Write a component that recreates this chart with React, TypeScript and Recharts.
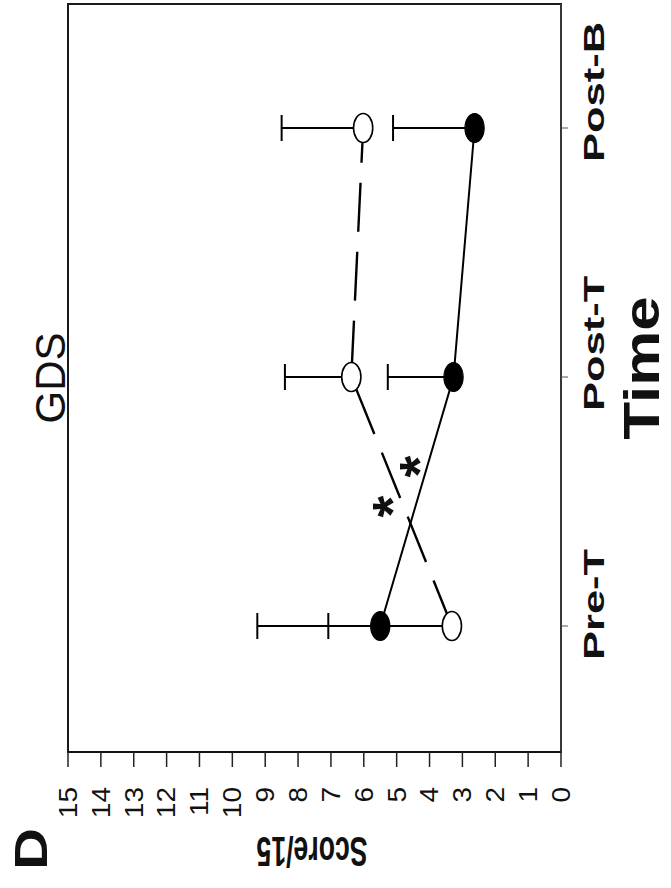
import React from "react";
import {
  ComposedChart,
  Line,
  ErrorBar,
  Scatter,
  XAxis,
  YAxis,
  ReferenceArea,
} from "recharts";

// Sessions along the time axis
const sessionIndex = [1, 2, 3];
const sessionLabels = ["Pre-T", "Post-T", "Post-B"];

// GDS score (/15): open markers, dashed line
const controlMean = [3.32, 6.38, 6.02];
const controlSD = [3.76, 2.02, 2.48];

// GDS score (/15): filled markers, solid line
const trainedMean = [5.5, 3.27, 2.63];
const trainedSD = [3.74, 2.0, 2.48];

// Score axis ticks
const scoreTicks = [0, 1, 2, 3, 4, 5, 6, 7, 8, 9, 10, 11, 12, 13, 14, 15];

// Significance asterisks (session position, score)
const asteriskT = [1.48, 1.64];
const asteriskV = [5.45, 4.64];

const controlRows = sessionIndex.map((t, i) => ({
  t,
  score: controlMean[i],
  err: [0, controlSD[i]],
}));
const trainedRows = sessionIndex.map((t, i) => ({
  t,
  score: trainedMean[i],
  err: [0, trainedSD[i]],
}));
const asteriskMarks = asteriskT.map((t, i) => ({ t, v: asteriskV[i] }));

const FONT = "'Liberation Sans', Arial, Helvetica, sans-serif";
const INK = "#111";

const ScoreTick = (props: any) => {
  const { x, y, payload } = props;
  return (
    <g transform={`translate(${x},${y}) scale(1.12,1)`}>
      <text
        x={0}
        y={0}
        dy="0.355em"
        textAnchor="end"
        fontFamily={FONT}
        fontSize={25}
        fill={INK}
      >
        {String(payload.value)}
      </text>
    </g>
  );
};

const SessionTick = (props: any) => {
  const { x, y, payload } = props;
  const label = sessionLabels[sessionIndex.indexOf(payload.value)] ?? "";
  return (
    <g transform={`translate(${x - 34},${y}) scale(1.45,1)`}>
      <text
        x={0}
        y={0}
        dy="0.72em"
        textAnchor="start"
        fontFamily={FONT}
        fontWeight="bold"
        fontSize={30}
        fill={INK}
      >
        {label}
      </text>
    </g>
  );
};

const OpenDot = (props: any) => {
  const { cx, cy } = props;
  if (cx == null || cy == null) return null;
  return (
    <ellipse cx={cx} cy={cy} rx={14.5} ry={9.6} fill="#fff" stroke="#000" strokeWidth={1.6} />
  );
};

const FilledDot = (props: any) => {
  const { cx, cy } = props;
  if (cx == null || cy == null) return null;
  return (
    <ellipse cx={cx} cy={cy} rx={14.5} ry={9.6} fill="#000" stroke="#000" strokeWidth={1.2} />
  );
};

const AsteriskMark = (props: any) => {
  const { cx, cy } = props;
  if (cx == null || cy == null) return null;
  return (
    <text
      x={cx}
      y={cy}
      dy="0.52em"
      textAnchor="middle"
      fontFamily={FONT}
      fontWeight="bold"
      fontSize={56}
      fill={INK}
    >
      *
    </text>
  );
};

export default function App() {
  return (
    <div
      style={{
        position: "absolute",
        left: 0,
        top: 0,
        width: 671,
        height: 888,
        overflow: "hidden",
        background: "#fff",
      }}
    >
      <div
        style={{
          position: "absolute",
          left: 0,
          top: 0,
          width: 888,
          height: 671,
          transformOrigin: "0 0",
          transform: "translateY(888px) rotate(-90deg)",
        }}
      >
        <ComposedChart
          width={888}
          height={671}
          margin={{ top: 68, right: 4, bottom: 0, left: 0 }}
        >
          <XAxis
            type="number"
            dataKey="t"
            domain={[0.494, 3.498]}
            ticks={sessionIndex}
            allowDataOverflow
            height={110}
            tickSize={7}
            tickMargin={14}
            tick={<SessionTick />}
            axisLine={{ stroke: "#555", strokeWidth: 1 }}
            tickLine={{ stroke: "#555", strokeWidth: 1 }}
          />
          <YAxis
            type="number"
            domain={[0, 15]}
            ticks={scoreTicks}
            width={136}
            tickSize={15}
            tickMargin={20}
            tick={<ScoreTick />}
            axisLine={{ stroke: "#111", strokeWidth: 1.5 }}
            tickLine={{ stroke: "#222", strokeWidth: 1.5 }}
          />
          <ReferenceArea
            x1={0.494}
            x2={3.498}
            y1={0}
            y2={15}
            fill="none"
            fillOpacity={0}
            stroke="#1a1a1a"
            strokeWidth={2}
          />
          <Line
            data={controlRows}
            dataKey="score"
            stroke="#000"
            strokeWidth={2.4}
            strokeDasharray="49 20"
            dot={<OpenDot />}
            activeDot={false}
            isAnimationActive={false}
          >
            <ErrorBar dataKey="err" width={13} stroke="#000" strokeWidth={2} direction="y" />
          </Line>
          <Line
            data={trainedRows}
            dataKey="score"
            stroke="#000"
            strokeWidth={2}
            dot={<FilledDot />}
            activeDot={false}
            isAnimationActive={false}
          >
            <ErrorBar dataKey="err" width={13} stroke="#000" strokeWidth={2} direction="y" />
          </Line>
          <Scatter
            data={asteriskMarks}
            dataKey="v"
            shape={<AsteriskMark />}
            isAnimationActive={false}
          />
        </ComposedChart>
        <svg
          width={888}
          height={671}
          style={{ position: "absolute", left: 0, top: 0, pointerEvents: "none" }}
        >
          <g transform="translate(18,47) scale(1.24,1)">
            <text x={0} y={0} fontFamily={FONT} fontWeight="bold" fontSize={47} fill={INK}>
              D
            </text>
          </g>
          <text
            x={510}
            y={65}
            textAnchor="middle"
            fontFamily={FONT}
            fontSize={42}
            fill={INK}
          >
            GDS
          </text>
          <g transform="translate(51,312) rotate(-90) scale(1,1.58)">
            <text
              x={0}
              y={0}
              textAnchor="middle"
              fontFamily={FONT}
              fontWeight="bold"
              fontSize={26.6}
              fill={INK}
            >
              Score/15
            </text>
          </g>
          <g transform="translate(520,659) scale(1.24,1)">
            <text
              x={0}
              y={0}
              textAnchor="middle"
              fontFamily={FONT}
              fontWeight="bold"
              fontSize={50}
              fill={INK}
            >
              Time
            </text>
          </g>
        </svg>
      </div>
    </div>
  );
}
